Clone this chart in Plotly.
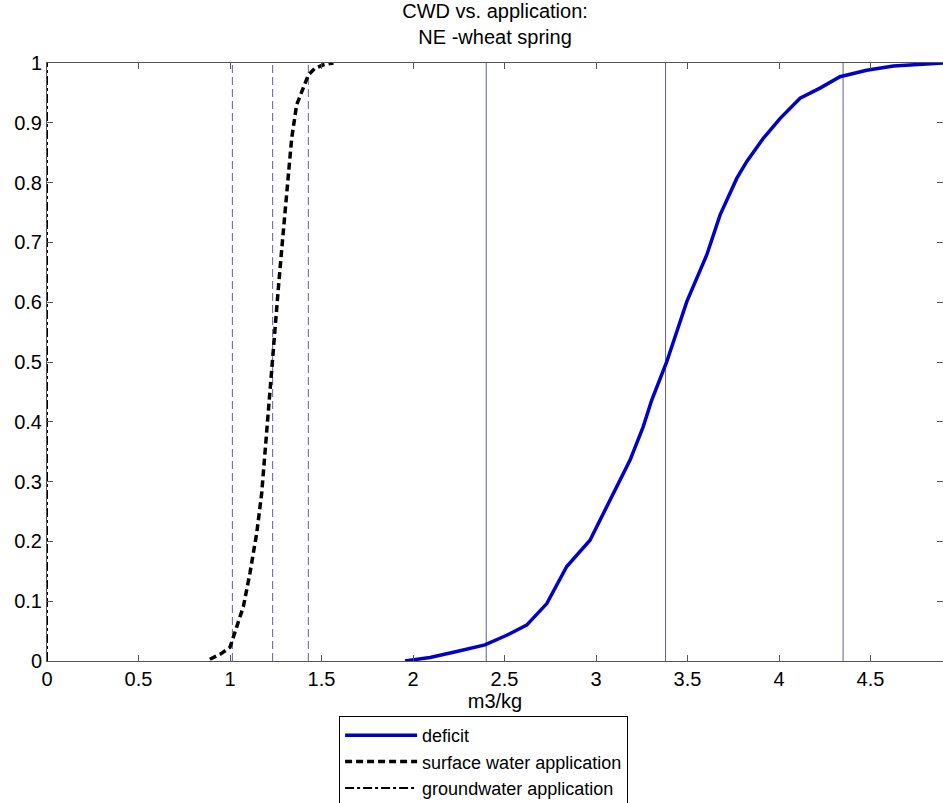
import plotly.graph_objects as go

# Deficit CDF (m3/kg, cumulative probability)
deficit_x = [1.956, 2.093, 2.239, 2.393, 2.512, 2.621, 2.731, 2.84, 2.967, 3.077, 3.186,
             3.258, 3.304, 3.386, 3.496, 3.605, 3.678, 3.769, 3.823, 3.914, 4.005, 4.115,
             4.224, 4.333, 4.479, 4.625, 4.843, 4.9]
deficit_y = [0.0, 0.006, 0.016, 0.027, 0.043, 0.060, 0.096, 0.158, 0.202, 0.269, 0.336,
             0.392, 0.436, 0.500, 0.601, 0.679, 0.746, 0.807, 0.835, 0.874, 0.907, 0.941,
             0.958, 0.977, 0.988, 0.995, 0.999, 1.0]

# Surface water application CDF
surface_x = [0.89, 0.95, 1.0, 1.027, 1.073, 1.109, 1.146, 1.173, 1.195, 1.209, 1.224, 1.233,
             1.246, 1.264, 1.288, 1.313, 1.337, 1.364, 1.401, 1.428, 1.464, 1.51, 1.565]
surface_y = [0.003, 0.012, 0.023, 0.047, 0.091, 0.147, 0.214, 0.280, 0.364, 0.420, 0.475, 0.503,
             0.567, 0.623, 0.707, 0.790, 0.874, 0.930, 0.958, 0.980, 0.991, 0.997, 1.0]

# Groundwater application CDF (all zero)
ground_x = [0.0, 0.0]
ground_y = [0.0, 1.0]

# Percentile markers (2.5%, 50%, 97.5%)
deficit_pct = [2.40, 3.38, 4.35]
surface_pct = [1.013, 1.233, 1.428]

fig = go.Figure()

line_col = "rgb(95,95,165)"
for v in deficit_pct:
    fig.add_trace(go.Scatter(x=[v, v], y=[0, 1], mode="lines", showlegend=False,
                             hoverinfo="skip", line=dict(color=line_col, width=1)))
for v in surface_pct:
    fig.add_trace(go.Scatter(x=[v, v], y=[0, 1], mode="lines", showlegend=False,
                             hoverinfo="skip",
                             line=dict(color=line_col, width=1, dash="8px,4px")))

fig.add_trace(go.Scatter(x=deficit_x, y=deficit_y, mode="lines", name="deficit",
                         line=dict(color="rgb(0,0,200)", width=3.5)))
fig.add_trace(go.Scatter(x=surface_x, y=surface_y, mode="lines",
                         name="surface water application",
                         line=dict(color="black", width=3.5, dash="7px,4px")))
fig.add_trace(go.Scatter(x=ground_x, y=ground_y, mode="lines",
                         name="groundwater application",
                         line=dict(color="black", width=2, dash="dashdot")))

axis_common = dict(showgrid=False, zeroline=False, showline=True, linecolor="#555555",
                   linewidth=1, mirror="ticks", ticks="inside", ticklen=6,
                   tickcolor="#555555", tickfont=dict(size=20, color="black"),
                   automargin=False)

fig.update_layout(
    width=943, height=803,
    margin=dict(l=47, r=0, t=63, b=142, autoexpand=False),
    paper_bgcolor="white", plot_bgcolor="white",
    font=dict(family="Liberation Sans, Arial, sans-serif", color="black", size=20),
    title=dict(text="CWD vs. application:<br>NE -wheat spring", x=0.525, xanchor="center",
               y=0.978, yanchor="middle", font=dict(size=20)),
    xaxis=dict(range=[0, 4.896], tickvals=[0, 0.5, 1, 1.5, 2, 2.5, 3, 3.5, 4, 4.5],
               ticktext=["0", "0.5", "1", "1.5", "2", "2.5", "3", "3.5", "4", "4.5"],
               title=dict(text="m3/kg", standoff=0, font=dict(size=20)), **axis_common),
    yaxis=dict(range=[0, 1], tickvals=[i / 10 for i in range(11)],
               ticktext=["0", "0.1", "0.2", "0.3", "0.4", "0.5", "0.6", "0.7", "0.8", "0.9", "1"],
               **axis_common),
    legend=dict(x=0.326, xanchor="left", y=-0.092, yanchor="top",
                bordercolor="black", borderwidth=1, bgcolor="white",
                font=dict(size=18), tracegroupgap=0, itemwidth=72),
    showlegend=True,
)

fig.write_html("out.html")
